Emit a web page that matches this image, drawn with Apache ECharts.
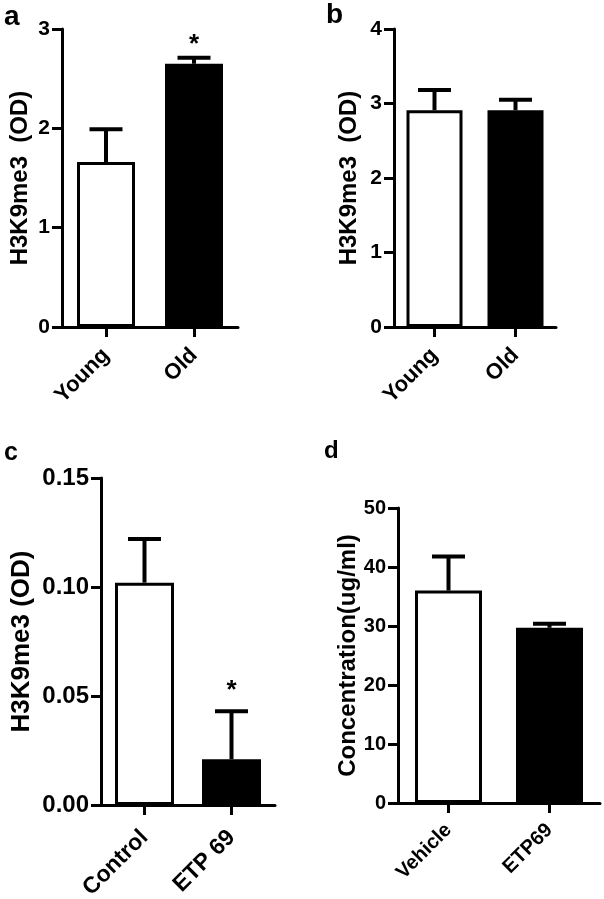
<!DOCTYPE html>
<html>
<head>
<meta charset="utf-8">
<script src="https://cdn.jsdelivr.net/npm/echarts@6/dist/echarts.min.js"></script>
<style>html,body{margin:0;padding:0;background:#fff}#c{width:604px;height:899px}</style>
</head>
<body>
<div id="c"></div>
<script>
// Panel a
const catsA = ['Young', 'Old'];
const meanA = [1.66, 2.65];
const errTopA = [1.99, 2.71];
const sigA = [false, true];
const ticksA = { min: 0, max: 3, interval: 1 };
// Panel b
const catsB = ['Young', 'Old'];
const meanB = [2.91, 2.91];
const errTopB = [3.18, 3.05];
const sigB = [false, false];
const ticksB = { min: 0, max: 4, interval: 1 };
// Panel c
const catsC = ['Control', 'ETP 69'];
const meanC = [0.102, 0.021];
const errTopC = [0.122, 0.043];
const sigC = [false, true];
const ticksC = { min: 0, max: 0.15, interval: 0.05 };
// Panel d
const catsD = ['Vehicle', 'ETP69'];
const meanD = [36.0, 29.7];
const errTopD = [41.8, 30.4];
const sigD = [false, false];
const ticksD = { min: 0, max: 50, interval: 10 };

const FONT = '"Liberation Sans", Arial, Helvetica, sans-serif';

const panels = [
  { cats: catsA, mean: meanA, top: errTopA, sig: sigA, ticks: ticksA, name: 'H3K9me3  (OD)',
    grid: { left: 62, top: 29, width: 176, height: 298 }, tickFont: 21, xFont: 22, xMargin: 25, nameFont: 24, nameGap: 30,
    barW: 58, starGap: 13, fmt: v => String(v) },
  { cats: catsB, mean: meanB, top: errTopB, sig: sigB, ticks: ticksB, name: 'H3K9me3  (OD)',
    grid: { left: 394, top: 29, width: 162, height: 298 }, tickFont: 21, xFont: 22, xMargin: 25, nameFont: 24, nameGap: 33,
    barW: 56, starGap: 13, fmt: v => String(v) },
  { cats: catsC, mean: meanC, top: errTopC, sig: sigC, ticks: ticksC, name: 'H3K9me3 (OD)',
    grid: { left: 101, top: 478, width: 174, height: 327 }, tickFont: 24, xFont: 23, xMargin: 29, nameFont: 26, nameGap: 66,
    barW: 59, starGap: 20, fmt: v => v.toFixed(2) },
  { cats: catsD, mean: meanD, top: errTopD, sig: sigD, ticks: ticksD, name: 'Concentration(ug/ml)',
    grid: { left: 398, top: 508, width: 202, height: 295 }, tickFont: 20, xFont: 20, xMargin: 24, nameFont: 24, nameGap: 38,
    barW: 67, starGap: 13, fmt: v => String(v) }
];

const grid = [], xAxis = [], yAxis = [], series = [];
panels.forEach((p, k) => {
  grid.push(Object.assign({ containLabel: false, outerBoundsMode: 'none' }, p.grid));
  xAxis.push({
    type: 'category', gridIndex: k, data: p.cats,
    axisLine: { show: true, lineStyle: { color: '#000', width: 3 } },
    axisTick: { show: true, alignWithLabel: true, length: 10, lineStyle: { color: '#000', width: 3 } },
    axisLabel: { rotate: 45, margin: p.xMargin, color: '#000', fontWeight: 'bold', fontSize: p.xFont, fontFamily: FONT, interval: 0 },
    splitLine: { show: false }
  });
  yAxis.push({
    type: 'value', gridIndex: k, min: p.ticks.min, max: p.ticks.max, interval: p.ticks.interval,
    name: p.name, nameLocation: 'middle', nameGap: p.nameGap, nameRotate: 90, nameMoveOverlap: false,
    nameTextStyle: { color: '#000', fontWeight: 'bold', fontSize: p.nameFont, fontFamily: FONT },
    axisLine: { show: true, lineStyle: { color: '#000', width: 3 } },
    axisTick: { show: true, length: 10, lineStyle: { color: '#000', width: 3 } },
    axisLabel: { margin: 12, color: '#000', fontWeight: 'bold', fontSize: p.tickFont, fontFamily: FONT, formatter: p.fmt },
    splitLine: { show: false }
  });
  series.push({
    type: 'bar', xAxisIndex: k, yAxisIndex: k, barWidth: p.barW, silent: true,
    data: p.mean.map((v, i) => ({ value: v, itemStyle: { color: i === 0 ? '#fff' : '#000', borderColor: '#000', borderWidth: 3 } })),
    z: 2
  });
  const capW = 33, sig = p.sig, gap = p.starGap;
  series.push({
    type: 'custom', xAxisIndex: k, yAxisIndex: k, silent: true, z: 3,
    encode: { x: 0, y: [1, 2] },
    data: p.mean.map((v, i) => [i, v, p.top[i]]),
    renderItem: function (params, api) {
      const i = api.value(0);
      const b = api.coord([i, api.value(1)]);
      const t = api.coord([i, api.value(2)]);
      const ch = [
        { type: 'line', shape: { x1: t[0], y1: b[1], x2: t[0], y2: t[1] }, style: { stroke: '#000', lineWidth: 4 } },
        { type: 'line', shape: { x1: t[0] - capW / 2, y1: t[1], x2: t[0] + capW / 2, y2: t[1] }, style: { stroke: '#000', lineWidth: 4 } }
      ];
      if (sig[params.dataIndex]) {
        ch.push({ type: 'text', style: { text: '*', x: t[0], y: t[1] - gap, align: 'center', verticalAlign: 'middle', fill: '#000', font: 'bold 26px ' + FONT } });
      }
      return { type: 'group', children: ch };
    }
  });
});

const letters = [
  { t: 'a', x: 4, y: 17, s: 28 },
  { t: 'b', x: 326, y: 15, s: 28 },
  { t: 'c', x: 4, y: 453, s: 25 },
  { t: 'd', x: 324, y: 451, s: 24 }
];

const chart = echarts.init(document.getElementById('c'), null, { renderer: 'canvas' });
chart.setOption({
  animation: false,
  backgroundColor: '#fff',
  grid, xAxis, yAxis, series,
  graphic: letters.map(l => ({
    type: 'text', left: l.x, top: l.y - l.s / 2,
    style: { text: l.t, fill: '#000', font: 'bold ' + l.s + 'px ' + FONT }
  }))
});
</script>
</body>
</html>
